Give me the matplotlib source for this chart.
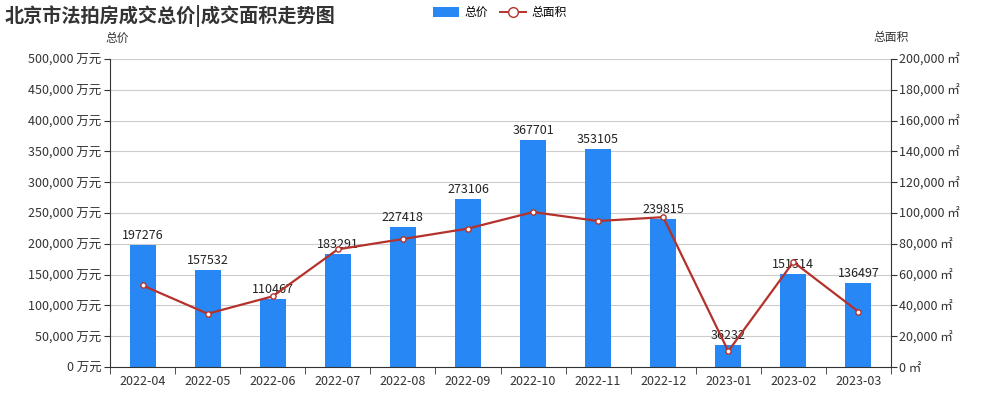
import matplotlib
matplotlib.use("Agg")
import matplotlib.pyplot as plt
from matplotlib.ticker import FuncFormatter, MultipleLocator
from matplotlib.lines import Line2D
from matplotlib.patches import Patch

plt.rcParams['font.family'] = ['Noto Sans CJK SC', 'DejaVu Sans']

months = ['2022-04', '2022-05', '2022-06', '2022-07', '2022-08', '2022-09',
          '2022-10', '2022-11', '2022-12', '2023-01', '2023-02', '2023-03']
total_price = [197276, 157532, 110467, 183291, 227418, 273106,
               367701, 353105, 239815, 36232, 151514, 136497]
total_area = [53000, 34600, 45900, 76400, 83100, 89900,
              100600, 94800, 97300, 10300, 68200, 35900]

title = '北京市法拍房成交总价|成交面积走势图'
bar_name = '总价'
line_name = '总面积'

bar_color = '#2787f5'
line_color = '#b5322c'

fig = plt.figure(figsize=(10, 4), dpi=100)
ax = fig.add_axes([0.110, 0.0825, 0.781, 0.77])
ax2 = ax.twinx()

x = list(range(len(months)))
ax.bar(x, total_price, width=0.4, color=bar_color, zorder=2)
for xi, v in zip(x, total_price):
    ax.text(xi, v + 5000, str(v), ha='center', va='bottom', fontsize=9, color='#222222', zorder=5)

ax2.plot(x, total_area, color=line_color, lw=1.6, marker='o', markersize=3.8,
         markerfacecolor='white', markeredgecolor=line_color, markeredgewidth=1, zorder=4)

ax.set_xlim(-0.5, len(months) - 0.5)
ax.set_ylim(0, 500000)
ax2.set_ylim(0, 200000)
ax.yaxis.set_major_locator(MultipleLocator(50000))
ax2.yaxis.set_major_locator(MultipleLocator(20000))
ax.yaxis.set_major_formatter(FuncFormatter(lambda v, p: f'{int(v):,} 万元'))
ax2.yaxis.set_major_formatter(FuncFormatter(lambda v, p: f'{int(v):,} ㎡'))

ax.set_xticks(x)
ax.set_xticklabels(months)
ax.set_xticks([i - 0.5 for i in range(len(months) + 1)], minor=True)
ax.tick_params(axis='x', which='major', length=0, labelsize=9, colors='#333333', pad=6)
ax.tick_params(axis='x', which='minor', length=5, color='#333333')
ax.tick_params(axis='y', length=4, labelsize=9, colors='#333333', pad=2)
ax2.tick_params(axis='y', length=4, labelsize=9, colors='#333333', pad=2)

ax.grid(axis='y', color='#cccccc', lw=0.8, zorder=0)
ax.set_axisbelow(True)
for a in (ax, ax2):
    a.spines['top'].set_visible(False)
    a.spines['left'].set_color('#333333')
    a.spines['right'].set_color('#333333')
    a.spines['bottom'].set_color('#333333')
ax.spines['right'].set_visible(False)
ax2.spines['left'].set_visible(False)
ax2.spines['bottom'].set_visible(False)

fig.text(0.005, 0.96, title, fontsize=13.8, fontweight='bold', color='#333333', va='center', ha='left')
fig.text(0.117, 0.905, bar_name, fontsize=8.5, color='#333333', ha='center', va='center')
fig.text(0.891, 0.905, line_name, fontsize=8.5, color='#333333', ha='center', va='center')

handles = [Patch(facecolor=bar_color, edgecolor='none'),
           Line2D([0], [0], color=line_color, lw=1.4, marker='o', markersize=7,
                  markerfacecolor='white', markeredgecolor=line_color)]
fig.legend(handles, [bar_name, line_name], loc='center', bbox_to_anchor=(0.50, 0.968),
           ncol=2, frameon=False, fontsize=8.5, handlelength=2.2, handleheight=0.9,
           columnspacing=1.0, handletextpad=0.5)

fig.savefig('out.png', dpi=100)
